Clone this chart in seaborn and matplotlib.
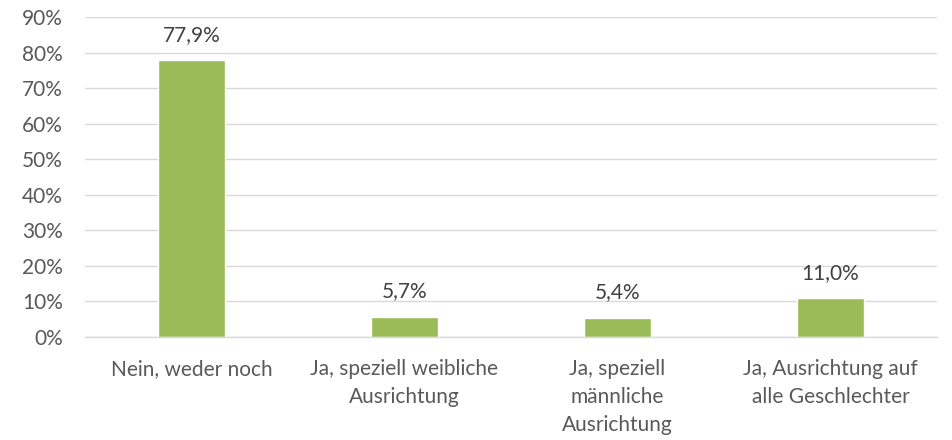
import matplotlib
matplotlib.use("Agg")
import matplotlib.pyplot as plt
import seaborn as sns
import pandas as pd

categories = ["Nein, weder noch", "Ja, speziell weibliche\nAusrichtung",
              "Ja, speziell\nmännliche\nAusrichtung", "Ja, Ausrichtung auf\nalle Geschlechter"]
values = [77.9, 5.7, 5.4, 11.0]
value_labels = ["77,9%", "5,7%", "5,4%", "11,0%"]
yticks = [0, 10, 20, 30, 40, 50, 60, 70, 80, 90]

sns.set_theme(style="white")
plt.rcParams['font.family'] = ['Lato', 'DejaVu Sans']

df = pd.DataFrame({"cat": categories, "val": values})
fig = plt.figure(figsize=(9.53, 4.4), dpi=100)
ax = fig.add_axes([85/953, 1-337/440, (937-85)/953, (337-17)/440])
sns.barplot(data=df, x="cat", y="val", color="#9BBB59", width=0.315, ax=ax, saturation=1)
ax.set_ylim(0, 90)
ax.set_xlim(-0.5, 3.5)
ax.set_yticks(yticks)
ax.set_yticklabels([f"{t}%" for t in yticks])
ax.yaxis.grid(True, color="#D9D9D9", linewidth=1)
ax.set_axisbelow(True)
for s in ["top", "right", "left"]:
    ax.spines[s].set_visible(False)
ax.spines["bottom"].set_color("#D9D9D9")
ax.spines["bottom"].set_linewidth(1)
ax.set_xlabel("")
ax.set_ylabel("")
ax.tick_params(axis="both", length=0, labelsize=15, colors="#595959")
ax.tick_params(axis="y", pad=16)
ax.tick_params(axis="x", pad=16)
for lab in ax.get_xticklabels():
    lab.set_horizontalalignment("center")
    lab.set_linespacing(1.5)
for p, lbl in zip(ax.patches, value_labels):
    ax.annotate(lbl, (p.get_x() + p.get_width()/2, p.get_height()),
                xytext=(0, 11), textcoords="offset points",
                ha="center", va="bottom", fontsize=15, color="#404040")
fig.savefig("out.png", dpi=100)
